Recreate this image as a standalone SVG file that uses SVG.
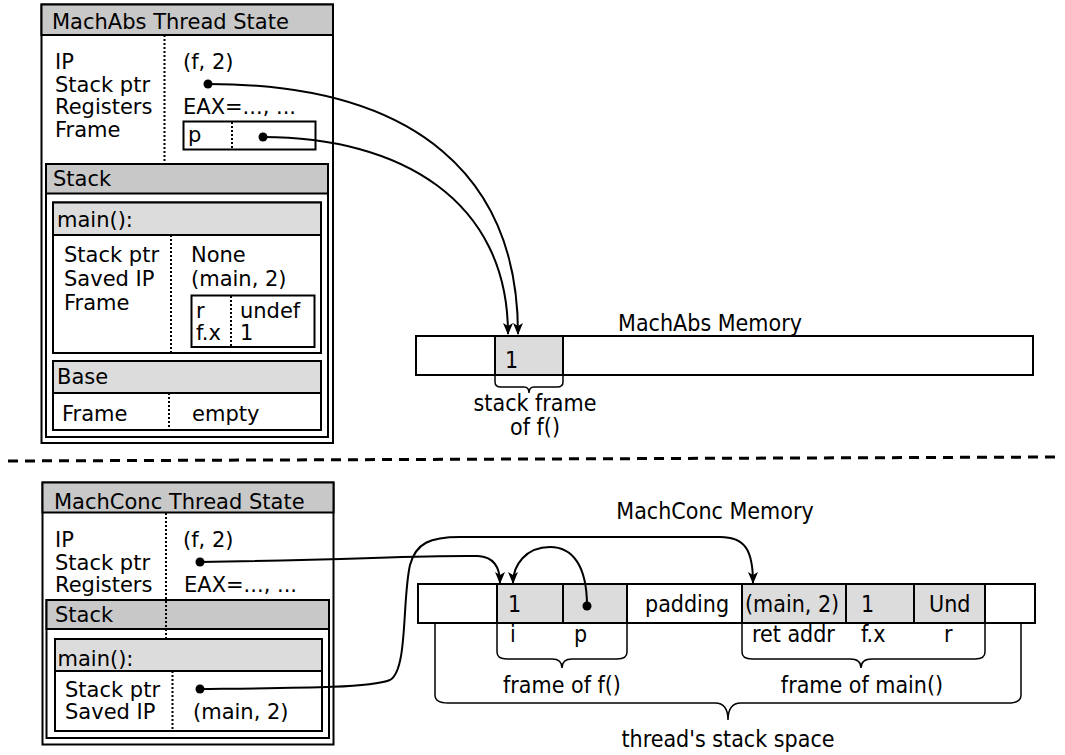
<svg xmlns="http://www.w3.org/2000/svg" width="1065" height="755" viewBox="0 0 1065 755">
<style>
.bx{fill:#fff;stroke:#000;stroke-width:2}
.h1{fill:#c8c8c8;stroke:#000;stroke-width:2}
.h2{fill:#dcdcdc;stroke:#000;stroke-width:2}
.cell{fill:#dcdcdc;stroke:#000;stroke-width:2}
.dot{stroke:#000;stroke-width:2;stroke-dasharray:2,2;fill:none}
.t{font-family:'DejaVu Sans','Liberation Sans',sans-serif;font-size:21px;fill:#000}
.m{font-family:'DejaVu Sans Condensed','DejaVu Sans',sans-serif;font-stretch:condensed;font-size:23px;fill:#000}
.mc{font-family:'DejaVu Sans Condensed','DejaVu Sans',sans-serif;font-stretch:condensed;font-size:23px;fill:#000;text-anchor:middle}
.c{fill:none;stroke:#000;stroke-width:2}
.br{fill:none;stroke:#000;stroke-width:1.5}
.pt{fill:#000}
</style>
<defs>
<marker id="ah" viewBox="0 0 12 10" refX="11" refY="5" markerWidth="12" markerHeight="10" markerUnits="userSpaceOnUse" orient="auto">
<path d="M0,0 L12,5 L0,10 L3,5 z" fill="#000"/>
</marker>
</defs>

<g id="machabs-state">
<rect class="bx" x="41.5" y="4.5" width="291.5" height="438.5"/>
<rect class="h1" x="41.5" y="4.5" width="291.5" height="30.5"/>
<text class="t" x="52" y="29">MachAbs Thread State</text>
<line class="dot" x1="164.5" y1="35" x2="164.5" y2="161"/>
<text class="t" x="55" y="69">IP</text>
<text class="t" x="55" y="91.5">Stack ptr</text>
<text class="t" x="55" y="114">Registers</text>
<text class="t" x="55" y="136.5">Frame</text>
<text class="t" x="183" y="69">(f, 2)</text>
<text class="t" x="183" y="114">EAX=..., ...</text>
<rect class="bx" x="183.5" y="121.5" width="132" height="28"/>
<line class="dot" x1="232" y1="122" x2="232" y2="149"/>
<text class="t" x="188" y="142">p</text>
</g>

<g id="machabs-stack">
<rect class="bx" x="46" y="164" width="282" height="273"/>
<rect class="h1" x="46" y="164" width="282" height="29.5"/>
<text class="t" x="53" y="186">Stack</text>
</g>

<g id="machabs-main">
<rect class="bx" x="53" y="202.5" width="268" height="150.5"/>
<rect class="h2" x="53" y="202.5" width="268" height="32.5"/>
<text class="t" x="57" y="227">main():</text>
<line class="dot" x1="171" y1="235" x2="171" y2="353"/>
<text class="t" x="64" y="262">Stack ptr</text>
<text class="t" x="64" y="286">Saved IP</text>
<text class="t" x="64" y="310">Frame</text>
<text class="t" x="191" y="262">None</text>
<text class="t" x="191" y="286">(main, 2)</text>
<rect class="bx" x="191.5" y="295.5" width="123" height="51.5"/>
<line class="dot" x1="231" y1="296" x2="231" y2="347"/>
<text class="t" x="196" y="318">r</text>
<text class="t" x="196" y="340">f.x</text>
<text class="t" x="240" y="318">undef</text>
<text class="t" x="240" y="340">1</text>
</g>

<g id="machabs-base">
<rect class="bx" x="53" y="361" width="268" height="69"/>
<rect class="h2" x="53" y="361" width="268" height="32"/>
<text class="t" x="57" y="384">Base</text>
<line class="dot" x1="169" y1="393" x2="169" y2="430"/>
<text class="t" x="62" y="421">Frame</text>
<text class="t" x="192" y="421">empty</text>
</g>

<g id="machabs-memory">
<text class="mc" x="710" y="331">MachAbs Memory</text>
<rect class="bx" x="416" y="336" width="617" height="39"/>
<rect class="cell" x="495" y="336" width="68" height="39"/>
<text class="m" x="505" y="368">1</text>
<path class="br" d="M495,376 L495,382 Q495,387 501,387 L524,387 Q529,387 529,393 Q529,387 534,387 L557,387 Q563,387 563,382 L563,376"/>
<text class="mc" x="535" y="411">stack frame</text>
<text class="mc" x="535" y="435">of f()</text>
</g>

<line x1="8" y1="461" x2="1058" y2="457" stroke="#000" stroke-width="3" stroke-dasharray="10,7"/>

<g id="machconc-state">
<rect class="bx" x="42.5" y="482.5" width="291" height="262"/>
<rect class="h1" x="42.5" y="482.5" width="291" height="30"/>
<text class="t" x="54" y="509">MachConc Thread State</text>
<text class="t" x="55" y="547">IP</text>
<text class="t" x="55" y="569.5">Stack ptr</text>
<text class="t" x="55" y="592">Registers</text>
<text class="t" x="183" y="547">(f, 2)</text>
<text class="t" x="184" y="592">EAX=..., ...</text>
</g>

<g id="machconc-stack">
<rect class="bx" x="46.5" y="600" width="282.5" height="138"/>
<rect class="h1" x="46.5" y="600" width="282.5" height="29"/>
<text class="t" x="55" y="622">Stack</text>
<line class="dot" x1="166" y1="513" x2="166" y2="638"/>
</g>

<g id="machconc-main">
<rect class="bx" x="55" y="639" width="267" height="92"/>
<rect class="h2" x="55" y="639" width="267" height="32"/>
<text class="t" x="57.5" y="666">main():</text>
<line class="dot" x1="172.5" y1="671" x2="172.5" y2="731"/>
<text class="t" x="65" y="697">Stack ptr</text>
<text class="t" x="65" y="719">Saved IP</text>
<text class="t" x="193" y="719">(main, 2)</text>
</g>

<g id="machconc-memory">
<text class="mc" x="715" y="519">MachConc Memory</text>
<rect class="bx" x="418" y="584" width="617" height="39"/>
<rect class="cell" x="497" y="584" width="66" height="39"/>
<rect class="cell" x="563" y="584" width="64" height="39"/>
<rect class="cell" x="742" y="584" width="104" height="39"/>
<rect class="cell" x="846" y="584" width="68" height="39"/>
<rect class="cell" x="914" y="584" width="71" height="39"/>
<text class="m" x="508" y="612">1</text>
<text class="m" x="645" y="612">padding</text>
<text class="m" x="745" y="612">(main, 2)</text>
<text class="m" x="861" y="612">1</text>
<text class="m" x="929" y="612">Und</text>
<text class="m" x="510" y="642">i</text>
<text class="m" x="574" y="642">p</text>
<text class="m" x="752" y="642">ret addr</text>
<text class="m" x="861" y="642">f.x</text>
<text class="m" x="944" y="642">r</text>
<path class="br" d="M497,623 L497,652 Q497,659 507,659 L552,659 Q562,659 562,668 Q562,659 572,659 L617,659 Q627,659 627,652 L627,623"/>
<text class="mc" x="562" y="693">frame of f()</text>
<path class="br" d="M742,623 L742,652 Q742,659 752,659 L850,659 Q861,659 861,668 Q861,659 872,659 L975,659 Q985,659 985,652 L985,623"/>
<text class="mc" x="862" y="693">frame of main()</text>
<path class="br" d="M435,623 L435,695 Q435,703 448,703 L715,703 Q728,703 728,720 Q728,703 741,703 L1008,703 Q1021,703 1021,695 L1021,623"/>
<text class="mc" x="728" y="747">thread's stack space</text>
</g>

<g id="connectors">
<path class="c" d="M208,84 C420,84 518,180 518,334" marker-end="url(#ah)"/>
<path class="c" d="M263,137 C400,137 508,200 508,334" marker-end="url(#ah)"/>
<path class="c" d="M200,562 C350,560 420,555 478,556 C495,557 500,568 500,583" marker-end="url(#ah)"/>
<path class="c" d="M587,606 C587,565 572,547 550,547 C526,547 513,565 513,583" marker-end="url(#ah)"/>
<path class="c" d="M200,689 C300,688 370,688 390,680 C408,670 402,600 410,565 C416,543 430,537 460,537 L720,537 C745,537 753,550 753,583" marker-end="url(#ah)"/>
<circle class="pt" cx="208" cy="84" r="4.5"/>
<circle class="pt" cx="263" cy="137" r="4.5"/>
<circle class="pt" cx="200" cy="562" r="4.5"/>
<circle class="pt" cx="587" cy="606" r="4.5"/>
<circle class="pt" cx="200" cy="689" r="4.5"/>
</g>
</svg>
